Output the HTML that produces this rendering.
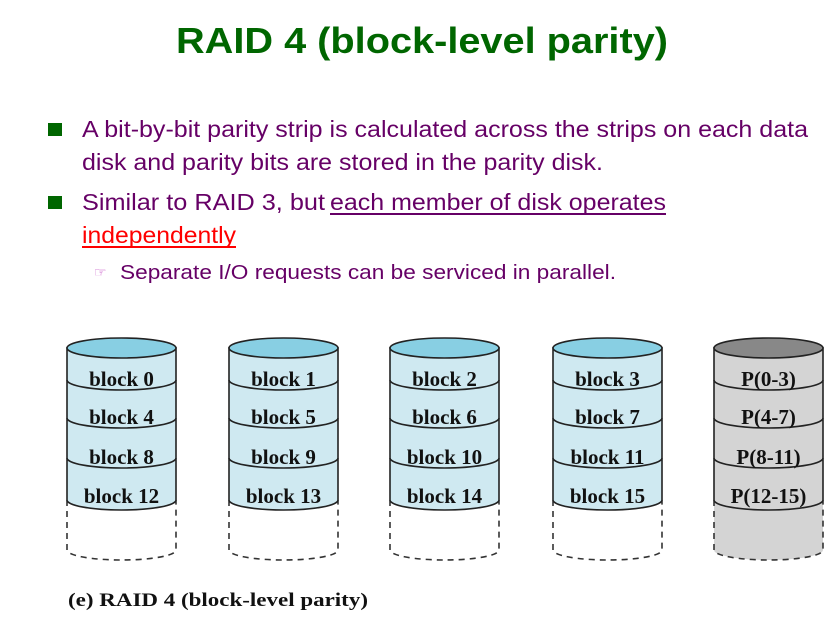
<!DOCTYPE html>
<html><head><meta charset="utf-8"><style>
html,body{margin:0;padding:0;background:#fff;}
svg{display:block}
</style></head><body>
<svg width="838" height="624" viewBox="0 0 838 624" xmlns="http://www.w3.org/2000/svg">
<defs>
<g id="lines" fill="none" stroke="#222" stroke-width="1.6">
<path d="M0,380 A54.5,10 0 0 0 109,380"/>
<path d="M0,418 A54.5,10 0 0 0 109,418"/>
<path d="M0,458 A54.5,10 0 0 0 109,458"/>
</g>
<g id="ddisk">
<path d="M0,500 L0,550 A54.5,10 0 0 0 109,550 L109,500" fill="#fff" stroke="#333" stroke-width="1.6" stroke-dasharray="6,5"/>
<path d="M0,348 L0,500 A54.5,10 0 0 0 109,500 L109,348 Z" fill="#cfe9f1" stroke="#222" stroke-width="1.6"/>
<ellipse cx="54.5" cy="348" rx="54.5" ry="10" fill="#88cfe3" stroke="#222" stroke-width="1.6"/>
<use href="#lines"/>
</g>
<g id="pdisk">
<path d="M0,500 L0,550 A54.5,10 0 0 0 109,550 L109,500" fill="#d4d4d4" stroke="#333" stroke-width="1.6" stroke-dasharray="6,5"/>
<path d="M0,348 L0,500 A54.5,10 0 0 0 109,500 L109,348 Z" fill="#d4d4d4" stroke="#222" stroke-width="1.6"/>
<ellipse cx="54.5" cy="348" rx="54.5" ry="10" fill="#888" stroke="#222" stroke-width="1.6"/>
<use href="#lines"/>
</g>
</defs>
<g font-family="Liberation Sans, sans-serif">
<text x="176" y="53" font-size="36" font-weight="bold" fill="#006600" textLength="492" lengthAdjust="spacingAndGlyphs">RAID 4 (block-level parity)</text>
<rect x="48" y="123" width="14" height="13" fill="#006600"/>
<rect x="48" y="196" width="14" height="13" fill="#006600"/>
<g fill="#660066" font-size="23">
<text x="82" y="137" textLength="726" lengthAdjust="spacingAndGlyphs">A bit-by-bit parity strip is calculated across the strips on each data</text>
<text x="82" y="170" textLength="521" lengthAdjust="spacingAndGlyphs">disk and parity bits are stored in the parity disk.</text>
<text x="82" y="210" textLength="243" lengthAdjust="spacingAndGlyphs">Similar to RAID 3, but</text>
<text x="330" y="210" textLength="336" lengthAdjust="spacingAndGlyphs">each member of disk operates</text>
<text x="82" y="243" fill="#ff0000" textLength="154" lengthAdjust="spacingAndGlyphs">independently</text>
<text x="120" y="279" font-size="20" textLength="496" lengthAdjust="spacingAndGlyphs">Separate I/O requests can be serviced in parallel.</text>
</g>
<rect x="330" y="213" width="336" height="2" fill="#660066"/>
<rect x="82" y="246" width="154" height="2" fill="#ff0000"/>
<text x="94" y="277" font-size="14" fill="#cc66cc">☞</text>
</g>
<use href="#ddisk" transform="translate(67,0)"/>
<use href="#ddisk" transform="translate(229,0)"/>
<use href="#ddisk" transform="translate(390,0)"/>
<use href="#ddisk" transform="translate(553,0)"/>
<use href="#pdisk" transform="translate(714,0)"/>
<g font-family="Liberation Serif, serif" font-weight="bold" font-size="21" text-anchor="middle" fill="#111">
<text x="121.5" y="386">block 0</text><text x="121.5" y="424">block 4</text><text x="121.5" y="464">block 8</text><text x="121.5" y="503">block 12</text>
<text x="283.5" y="386">block 1</text><text x="283.5" y="424">block 5</text><text x="283.5" y="464">block 9</text><text x="283.5" y="503">block 13</text>
<text x="444.5" y="386">block 2</text><text x="444.5" y="424">block 6</text><text x="444.5" y="464">block 10</text><text x="444.5" y="503">block 14</text>
<text x="607.5" y="386">block 3</text><text x="607.5" y="424">block 7</text><text x="607.5" y="464">block 11</text><text x="607.5" y="503">block 15</text>
<text x="768.5" y="386">P(0-3)</text><text x="768.5" y="424">P(4-7)</text><text x="768.5" y="464">P(8-11)</text><text x="768.5" y="503">P(12-15)</text>
</g>
<text x="68" y="606" font-family="Liberation Serif, serif" font-weight="bold" font-size="19" fill="#111" textLength="300" lengthAdjust="spacingAndGlyphs">(e) RAID 4 (block-level parity)</text>
</svg>
</body></html>
